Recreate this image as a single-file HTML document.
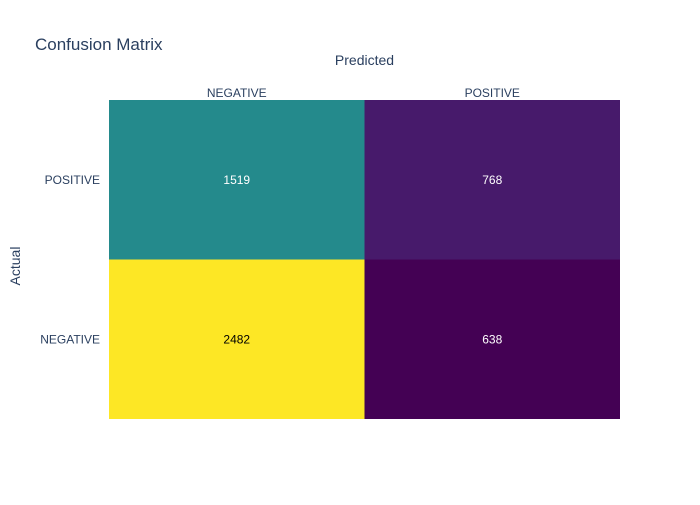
<!DOCTYPE html>
<html><head><meta charset="utf-8"><style>
body{margin:0;background:#fff;}
svg text{font-family:"Liberation Sans",sans-serif;}
</style></head><body>
<svg id="chart" width="700" height="500">
<rect width="700" height="500" fill="#fff"/>
<text x="35" y="50" font-size="17" fill="#2a3f5f">Confusion Matrix</text>
<text x="364.5" y="65" font-size="14" fill="#2a3f5f" text-anchor="middle">Predicted</text>
<text x="20" y="266" font-size="14" fill="#2a3f5f" text-anchor="middle" transform="rotate(-90 20 266)">Actual</text>
<g id="cells"></g>
<g id="labels"></g>
</svg>
<script>
const xCats = ["NEGATIVE","POSITIVE"];
const yCats = ["NEGATIVE","POSITIVE"]; // bottom to top
const zNeg = [2482, 638];  // actual NEGATIVE row
const zPos = [1519, 768];  // actual POSITIVE row

const L=109,R=620,T=100,B=419;
const cw=(R-L)/xCats.length, ch=(B-T)/yCats.length;
const xPos=i=>L+i*cw;
const yPos=j=>B-(j+1)*ch;
const stops=[[0,[68,1,84]],[0.1111,[72,40,120]],[0.2222,[62,73,137]],[0.3333,[49,104,142]],[0.4444,[38,130,142]],[0.5556,[31,158,137]],[0.6667,[53,183,121]],[0.7778,[110,206,88]],[0.8889,[181,222,43]],[1,[253,231,37]]];
function viridis(t){t=Math.max(0,Math.min(1,t));for(let i=1;i<stops.length;i++){if(t<=stops[i][0]){const a=stops[i-1],b=stops[i];const f=(t-a[0])/(b[0]-a[0]);return `rgb(${a[1].map((v,k)=>Math.round(v+(b[1][k]-v)*f)).join(",")})`;}}return "rgb(253,231,37)";}
const rows=[zNeg,zPos];
const all=rows.flat();const mn=Math.min(...all),mx=Math.max(...all);
const NS="http://www.w3.org/2000/svg";
const cells=document.getElementById('cells'),labels=document.getElementById('labels');
rows.forEach((row,j)=>row.forEach((v,i)=>{
 const t=(v-mn)/(mx-mn);
 const r=document.createElementNS(NS,'rect');
 r.setAttribute('x',xPos(i));r.setAttribute('y',yPos(j));r.setAttribute('width',cw);r.setAttribute('height',ch);r.setAttribute('fill',viridis(t));
 
 
 cells.appendChild(r);
 const tx=document.createElementNS(NS,'text');
 tx.setAttribute('x',xPos(i)+cw/2);tx.setAttribute('y',yPos(j)+ch/2+4);tx.setAttribute('text-anchor','middle');tx.setAttribute('font-size','12');
 tx.setAttribute('fill',t>0.7?'#000':'#fff');tx.textContent=v;
 
 
 labels.appendChild(tx);
}));
xCats.forEach((c,i)=>{const tx=document.createElementNS(NS,'text');tx.setAttribute('x',xPos(i)+cw/2);tx.setAttribute('y',97);tx.setAttribute('text-anchor','middle');tx.setAttribute('font-size','12');tx.setAttribute('fill','#2a3f5f');tx.textContent=c;
 
 
 labels.appendChild(tx);});
yCats.forEach((c,j)=>{const tx=document.createElementNS(NS,'text');tx.setAttribute('x',100);tx.setAttribute('y',yPos(j)+ch/2+4);tx.setAttribute('text-anchor','end');tx.setAttribute('font-size','12');tx.setAttribute('fill','#2a3f5f');tx.textContent=c;
 
 
 labels.appendChild(tx);});
</script>
</body></html>
